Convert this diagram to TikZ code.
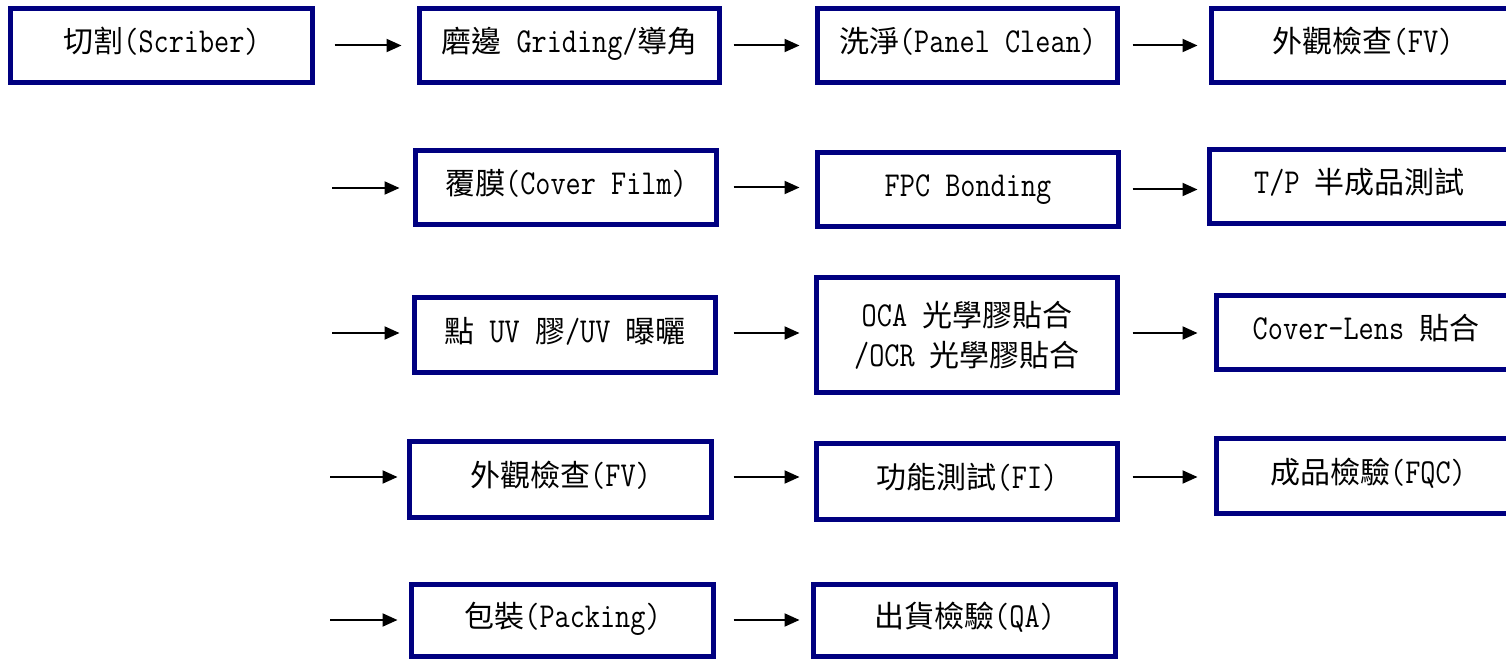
\documentclass[tikz,border=0pt]{standalone}
\usepackage{fontspec}
\newfontfamily\cjk{Noto Sans CJK TC}
\newfontfamily\lat[FakeStretch=0.84]{Latin Modern Mono}
\usetikzlibrary{arrows.meta}
\definecolor{boxblue}{HTML}{000080}
\newcommand\zh[1]{{\cjk #1}}
\newcommand\en[1]{{\fontsize{35}{40}\selectfont\lat #1}}
\tikzset{
  procbox/.style={draw=boxblue, line width=5pt, fill=white, inner sep=0pt,
    align=center, font=\fontsize{30}{40}\selectfont, text depth=10pt, text height=24pt},
  arr/.style={line width=2pt, -{Triangle[length=15pt,width=13pt]}},
}
\begin{document}
\begin{tikzpicture}[x=1pt,y=-1pt]
\useasboundingbox (0,0) rectangle (1506,660);
% row 1
\node[procbox, minimum width=302pt, minimum height=74pt] (b1) at (161.5,45.5) {\zh{切割}\en{(Scriber)}};
\node[procbox, minimum width=300pt, minimum height=74pt] (b2) at (569.5,45.5) {\zh{磨邊}\en{ Griding/}\zh{導角}};
\node[procbox, minimum width=300pt, minimum height=74pt] (b3) at (967.5,45.5) {\zh{洗淨}\en{(Panel Clean)}};
\node[procbox, minimum width=303pt, minimum height=74pt] (b4) at (1363,45.5) {\zh{外觀檢查}\en{(FV)}};
% row 2
\node[procbox, minimum width=301pt, minimum height=74pt] (b5) at (566,187.5) {\zh{覆膜}\en{(Cover Film)}};
\node[procbox, minimum width=301pt, minimum height=74pt] (b6) at (968,189.5) {\en{FPC Bonding}};
\node[procbox, minimum width=300pt, minimum height=74pt] (b7) at (1359.5,186.5) {\en{T/P }\zh{半成品測試}};
% row 3
\node[procbox, minimum width=301pt, minimum height=75pt] (b8) at (565,335) {\zh{點}\en{ UV }\zh{膠}\en{/UV }\zh{曝曬}};
\node[procbox, minimum width=301pt, minimum height=115pt, text depth=, text height=] (b9) at (967,335) {\en{OCA }\zh{光學膠貼合}\\\en{/OCR }\zh{光學膠貼合}};
\node[procbox, minimum width=299pt, minimum height=74pt] (b10) at (1366,332.5) {\en{Cover-Lens }\zh{貼合}};
% row 4
\node[procbox, minimum width=302pt, minimum height=76pt] (b11) at (560.5,479.5) {\zh{外觀檢查}\en{(FV)}};
\node[procbox, minimum width=301pt, minimum height=76pt] (b12) at (967,481.5) {\zh{功能測試}\en{(FI)}};
\node[procbox, minimum width=303pt, minimum height=75pt] (b13) at (1368,476) {\zh{成品檢驗}\en{(FQC)}};
% row 5
\node[procbox, minimum width=302pt, minimum height=72pt] (b14) at (562.5,620.5) {\zh{包裝}\en{(Packing)}};
\node[procbox, minimum width=302pt, minimum height=72pt] (b15) at (964.5,620.5) {\zh{出貨檢驗}\en{(QA)}};
% free arrow tails
\coordinate (s2) at (332,188);
\coordinate (s3) at (332,333);
\coordinate (s4) at (330,477);
\coordinate (s5) at (330,620);
% arrows row 1
\draw[arr, shorten <=19.5pt, shorten >=15.5pt] (b1.east) -- (b1.east -| b2.west);
\draw[arr, shorten <=11.5pt, shorten >=15.5pt] (b2.east) -- (b2.east -| b3.west);
\draw[arr, shorten <=12.5pt, shorten >=11.5pt] (b3.east) -- (b3.east -| b4.west);
% row 2
\draw[arr, shorten >=13.5pt] (s2) -- (s2 -| b5.west);
\draw[arr, shorten <=14.5pt, shorten >=15.5pt] (b5.east) -- (b5.east -| b6.west);
\draw[arr, shorten <=11.5pt, shorten >=9.5pt] (b6.east) -- (b6.east -| b7.west);
% row 3
\draw[arr, shorten >=12.5pt] (s3) -- (s3 -| b8.west);
\draw[arr, shorten <=15.5pt, shorten >=14.5pt] (s3 -| b8.east) -- (s3 -| b9.west);
\draw[arr, shorten <=12.5pt, shorten >=16.5pt] (s3 -| b9.east) -- (s3 -| b10.west);
% row 4
\draw[arr, shorten >=9.5pt] (s4) -- (s4 -| b11.west);
\draw[arr, shorten <=19.5pt, shorten >=14.5pt] (s4 -| b11.east) -- (s4 -| b12.west);
\draw[arr, shorten <=12.5pt, shorten >=16.5pt] (s4 -| b12.east) -- (s4 -| b13.west);
% row 5
\draw[arr, shorten >=11.5pt] (s5) -- (s5 -| b14.west);
\draw[arr, shorten <=17.5pt, shorten >=11.5pt] (s5 -| b14.east) -- (s5 -| b15.west);
\end{tikzpicture}
\end{document}
